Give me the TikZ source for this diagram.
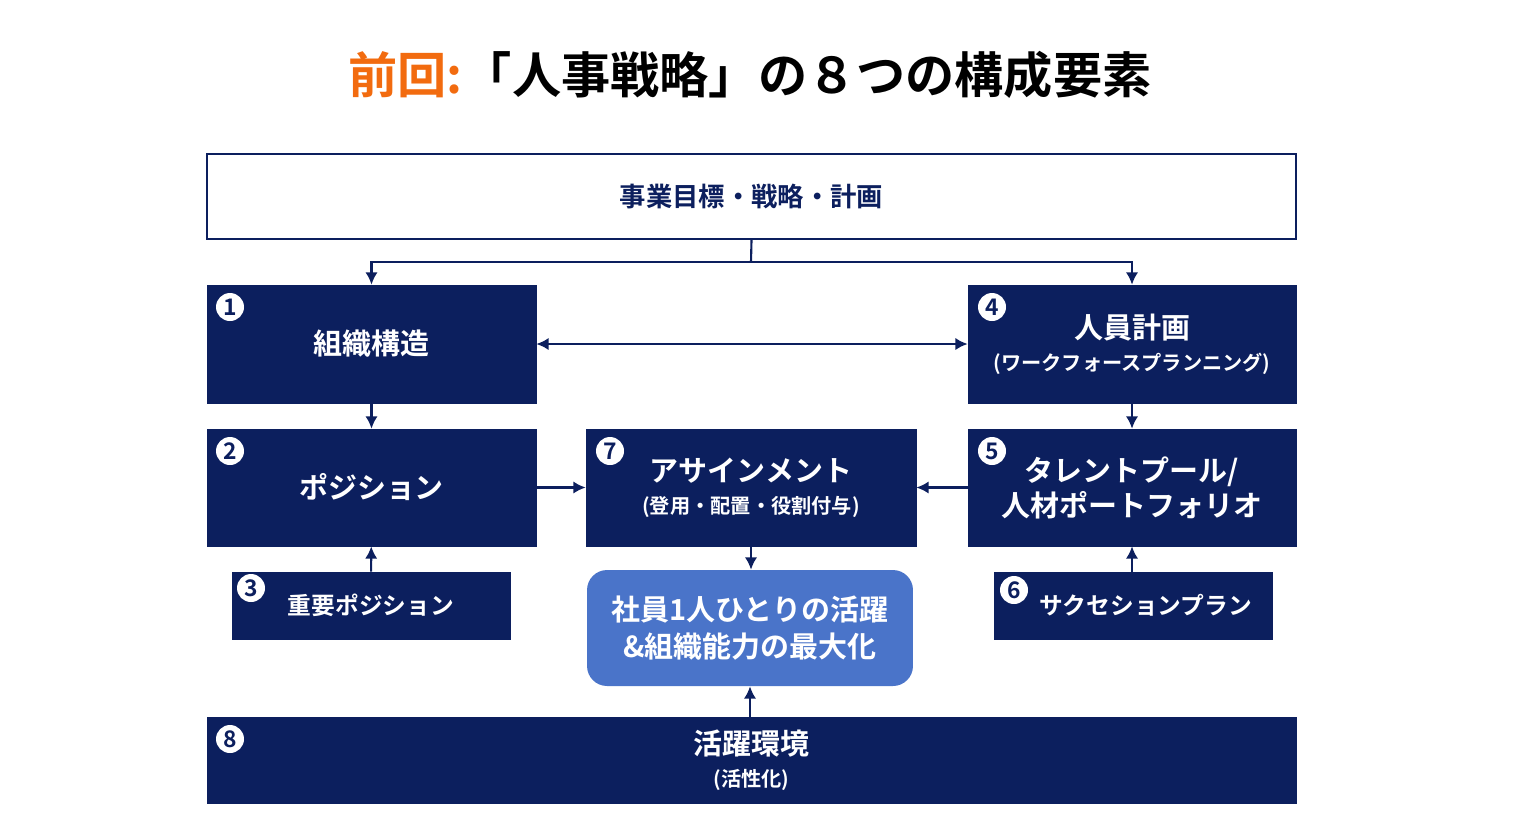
\documentclass[tikz,border=0pt]{standalone}
\usepackage{fontspec}
\usetikzlibrary{arrows.meta}
\newfontfamily\cjk{Noto Sans CJK JP}[BoldFont={* Bold}]
\definecolor{navy}{HTML}{0C1F5E}
\definecolor{midblue}{HTML}{4A74C9}
\definecolor{orng}{HTML}{F26B0F}
\begin{document}
\begin{tikzpicture}[x=0.02cm,y=-0.02cm,
  font=\cjk\bfseries,
  nbox/.style={fill=navy,draw=navy,text=white,inner sep=0pt,align=center},
  num/.style={circle,fill=white,text=navy,inner sep=0pt,minimum size=0.56cm,font=\cjk\bfseries\fontsize{13}{13}\selectfont},
  arr/.style={draw=navy,line width=1.2pt,-{Latex[length=7pt,width=7pt]}}]
\useasboundingbox (0,0) rectangle (1530,836);
\node (title) at (750,75) {\fontsize{28}{34}\selectfont\textcolor{orng}{前回:}「人事戦略」の８つの構成要素};
\node[draw=navy,line width=1.2pt,fill=white,text=navy,minimum width=21.78cm,minimum height=1.7cm,font=\cjk\bfseries\fontsize{15}{18}\selectfont] (top) at (751.5,196.5) {事業目標・戦略・計画};
\node[nbox,minimum width=6.58cm,minimum height=2.36cm,font=\cjk\bfseries\fontsize{16.5}{20}\selectfont] (b1) at (371.5,344) {組織構造};
\node[nbox,minimum width=6.56cm,minimum height=2.36cm,font=\cjk\bfseries\fontsize{16.5}{20}\selectfont] (b4) at (1132,344) {人員計画\\[-2pt]{\fontsize{11.5}{15}\selectfont (ワークフォースプランニング)}};
\node[nbox,minimum width=6.58cm,minimum height=2.34cm,font=\cjk\bfseries\fontsize{16.5}{20}\selectfont] (b2) at (371.5,487.5) {ポジション};
\node[nbox,minimum width=6.6cm,minimum height=2.34cm,font=\cjk\bfseries\fontsize{16.5}{20}\selectfont] (b7) at (751,487.5) {アサインメント\\[-2pt]{\fontsize{11.5}{15}\selectfont (登用・配置・役割付与)}};
\node[nbox,minimum width=6.56cm,minimum height=2.34cm,font=\cjk\bfseries\fontsize{16.5}{20}\selectfont] (b5) at (1132,487.5) {タレントプール/\\人材ポートフォリオ};
\node[nbox,minimum width=5.56cm,minimum height=1.34cm,font=\cjk\bfseries\fontsize{13.5}{18}\selectfont] (b3) at (371,605.5) {重要ポジション};
\node[nbox,minimum width=5.56cm,minimum height=1.34cm,font=\cjk\bfseries\fontsize{13.5}{18}\selectfont] (b6) at (1133,605.5) {\hspace*{0.5cm}サクセションプラン};
\node[fill=midblue,rounded corners=0.4cm,text=white,minimum width=6.52cm,minimum height=2.32cm,align=center,font=\cjk\bfseries\fontsize{16.5}{21}\selectfont] (goal) at (750,628) {社員1人ひとりの活躍\\\&組織能力の最大化};
\node[nbox,minimum width=21.78cm,minimum height=1.72cm,font=\cjk\bfseries\fontsize{16.5}{20}\selectfont] (b8) at (751.5,760) {活躍環境\\[-2pt]{\fontsize{11.5}{15}\selectfont (活性化)}};
\node[num] at (230,307) {1};
\node[num] at (992,307) {4};
\node[num] at (230,451) {2};
\node[num] at (610,451) {7};
\node[num] at (992,451) {5};
\node[num] at (251,588) {3};
\node[num] at (1014,590) {6};
\node[num] at (230,739) {8};
\coordinate (j) at (751,262);
\draw[navy,line width=1.2pt] (top.south) -- (j);
\draw[arr] (j) -| (b1.north);
\draw[arr] (j) -| (b4.north);
\draw[arr,{Latex[length=7pt,width=7pt]}-{Latex[length=7pt,width=7pt]}] (b1) -- (b4);
\draw[arr] (b1) -- (b2);
\draw[arr] (b4) -- (b5);
\draw[arr] (b2) -- (b7);
\draw[arr] (b5) -- (b7);
\draw[arr] (b3) -- (b2);
\draw[arr] (b6.north -| b5) -- (b5);
\draw[arr] (b7.south) -- (goal.north -| b7);
\draw[arr] (b8.north -| goal) -- (goal);
\end{tikzpicture}
\end{document}
